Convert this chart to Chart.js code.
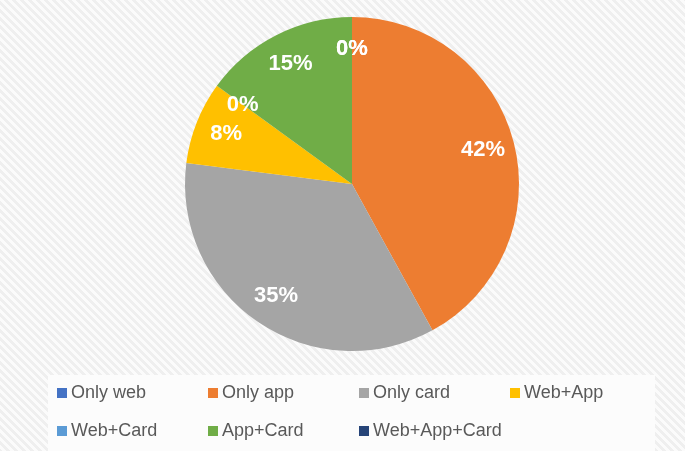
<!DOCTYPE html>
<html>
<head>
<meta charset="utf-8">
<script src="https://cdn.jsdelivr.net/npm/chart.js@4/dist/chart.umd.min.js"></script>
<style>
  html, body { margin: 0; padding: 0; background: #fff; }
  canvas { display: block; }
</style>
</head>
<body>
<canvas id="pieChart" width="685" height="451"></canvas>
<script>
// datos del gráfico
const categories = ["Only web", "Only app", "Only card", "Web+App", "Web+Card", "App+Card", "Web+App+Card"];
const shares = [0, 42, 35, 8, 0, 15, 0]; // porcentaje
const sliceColors = ["#4472C4", "#ED7D31", "#A5A5A5", "#FFC000", "#5B9BD5", "#70AD47", "#264478"];

// fondo rayado tipo Excel
function makeHatch() {
    const p = document.createElement("canvas");
    p.width = 8; p.height = 8;
    const c = p.getContext("2d");
    const img = c.createImageData(8, 8);
    for (let y = 0; y < 8; y++) {
        for (let x = 0; x < 8; x++) {
            const v = ((x - y + 8) % 8) < 4 ? 251 : 239;
            const i = (y * 8 + x) * 4;
            img.data[i] = v; img.data[i + 1] = v; img.data[i + 2] = v; img.data[i + 3] = 255;
        }
    }
    c.putImageData(img, 0, 0);
    return p;
}

const backgroundPlugin = {
    id: "hatchBg",
    beforeDraw(chart) {
        const c = chart.ctx;
        c.save();
        c.fillStyle = c.createPattern(makeHatch(), "repeat");
        c.fillRect(0, 0, chart.width, chart.height);
        c.restore();
    }
};

// etiquetas de porcentaje dentro de las porciones
const labelPlugin = {
    id: "sliceLabels",
    afterDatasetsDraw(chart) {
        const c = chart.ctx;
        const meta = chart.getDatasetMeta(0);
        c.save();
        c.font = "bold 22px 'Liberation Sans', Arial, sans-serif";
        c.fillStyle = "#ffffff";
        c.textAlign = "center";
        c.textBaseline = "middle";
        meta.data.forEach((arc, i) => {
            const p = arc.getProps(["x", "y", "startAngle", "endAngle", "outerRadius"], true);
            const mid = (p.startAngle + p.endAngle) / 2;
            const r = p.outerRadius * 0.81;
            c.fillText(shares[i] + "%", p.x + Math.cos(mid) * r, p.y + Math.sin(mid) * r);
        });
        c.restore();
    }
};

// leyenda en columnas fijas, como en el original
const legendPlugin = {
    id: "gridLegend",
    afterDraw(chart) {
        const c = chart.ctx;
        c.save();
        c.fillStyle = "#fcfcfc";
        c.fillRect(48, 375, 607, 76);
        c.font = "18px 'Liberation Sans', Arial, sans-serif";
        c.textBaseline = "middle";
        categories.forEach((name, i) => {
            const col = i % 4, row = Math.floor(i / 4);
            const x = 57 + col * 151;
            const y = 393 + row * 38;
            c.fillStyle = sliceColors[i];
            c.fillRect(x, y - 5, 10, 10);
            c.fillStyle = "#595959";
            c.fillText(name, x + 14, y);
        });
        c.restore();
    }
};

const ctx = document.getElementById("pieChart").getContext("2d");

const chart = new Chart(ctx, {
    type: "pie",
    data: {
        labels: categories,
        datasets: [{
            data: shares,
            backgroundColor: sliceColors,
            borderWidth: 0
        }]
    },
    options: {
        responsive: false,
        animation: false,
        layout: {
            padding: { top: 17, bottom: 100, left: 20, right: 1 }
        },
        plugins: {
            legend: { display: false },
            tooltip: { enabled: false }
        }
    },
    plugins: [backgroundPlugin, labelPlugin, legendPlugin]
});
</script>
</body>
</html>
